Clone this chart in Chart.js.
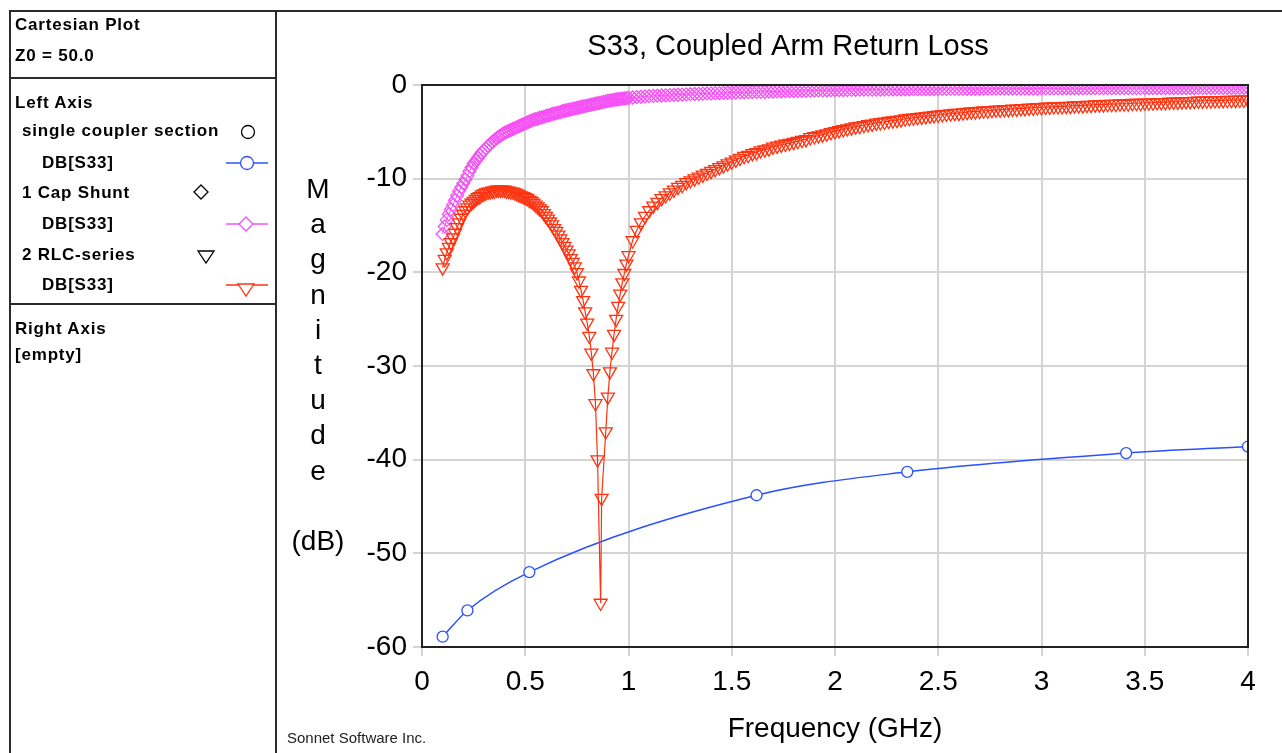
<!DOCTYPE html>
<html>
<head>
<meta charset="utf-8">
<script src="https://cdn.jsdelivr.net/npm/chart.js@4.4.1/dist/chart.umd.min.js"></script>
<style>
  body { margin: 0; background: #fff; }
  #page { position: relative; width: 1282px; height: 753px; overflow: hidden; font-family: "Liberation Sans", Arial, sans-serif; color: #000; }
  #myChart { position: absolute; left: 0; top: 0; }
  .rule { position: absolute; background: #2a2a2a; }
  .row { position: absolute; font-weight: bold; font-size: 17px; letter-spacing: 0.8px; line-height: 20px; height: 20px; white-space: nowrap; }
  #icons { position: absolute; left: 0; top: 0; }
  #yTitle { position: absolute; left: 288px; width: 60px; top: 171px; text-align: center; font-size: 28px; line-height: 35.2px; }
  #credit { position: absolute; left: 287px; top: 729px; font-size: 15px; line-height: 18px; color: #222; }
</style>
</head>
<body>
<div id="page">
  <canvas id="myChart" width="1282" height="753"></canvas>

  <div class="rule" style="left:9px;top:10px;width:1273px;height:2px"></div>
  <div class="rule" style="left:9px;top:10px;width:2px;height:743px"></div>
  <div class="rule" style="left:275px;top:10px;width:2px;height:743px"></div>
  <div class="rule" style="left:9px;top:77px;width:268px;height:2px"></div>
  <div class="rule" style="left:9px;top:303px;width:268px;height:2px"></div>

  <div class="row" style="left:15px;top:15px">Cartesian Plot</div>
  <div class="row" style="left:15px;top:46px">Z0 = 50.0</div>
  <div class="row" style="left:15px;top:93px">Left Axis</div>
  <div class="row" style="left:22px;top:121px">single coupler section</div>
  <div class="row" style="left:42px;top:153px">DB[S33]</div>
  <div class="row" style="left:22px;top:183px">1 Cap Shunt</div>
  <div class="row" style="left:42px;top:214px">DB[S33]</div>
  <div class="row" style="left:22px;top:245px">2 RLC-series</div>
  <div class="row" style="left:42px;top:275px">DB[S33]</div>
  <div class="row" style="left:15px;top:319px">Right Axis</div>
  <div class="row" style="left:15px;top:345px">[empty]</div>

  <svg id="icons" width="277" height="310">
    <circle cx="248" cy="132" r="6.5" fill="none" stroke="#000" stroke-width="1.3"/>
    <line x1="226" y1="163" x2="268" y2="163" stroke="#2a50ff" stroke-width="1.5"/>
    <circle cx="247" cy="163" r="6.5" fill="#fff" stroke="#2a50ff" stroke-width="1.3"/>
    <polygon points="201,185 208,192 201,199 194,192" fill="none" stroke="#000" stroke-width="1.3"/>
    <line x1="226" y1="224" x2="268" y2="224" stroke="#f550f5" stroke-width="1.5"/>
    <polygon points="246,217 253,224 246,231 239,224" fill="#fff" stroke="#f550f5" stroke-width="1.3"/>
    <polygon points="198,251 214,251 206,263" fill="none" stroke="#000" stroke-width="1.3"/>
    <line x1="226" y1="285" x2="268" y2="285" stroke="#ff3311" stroke-width="1.5"/>
    <polygon points="238,284 254,284 246,296" fill="#fff" stroke="#ff3311" stroke-width="1.3"/>
  </svg>

  <div id="yTitle">M<br>a<br>g<br>n<br>i<br>t<br>u<br>d<br>e<br><br>(dB)</div>
  <div id="credit">Sonnet Software Inc.</div>
</div>

<script>
// single coupler section, DB[S33]
const coupGHz = [0.10, 0.22, 0.52, 1.62, 2.35, 3.41, 4.00];
const coupDb = [-58.9, -56.1, -52.0, -43.8, -41.3, -39.3, -38.6];

// 1 Cap Shunt, DB[S33] - fine sweep below 1 GHz
const capFineGHz = [
  0.10, 0.11, 0.12, 0.13, 0.14, 0.15, 0.16, 0.17, 0.18, 0.19,
  0.20, 0.21, 0.22, 0.23, 0.24, 0.25, 0.26, 0.27, 0.28, 0.29,
  0.30, 0.31, 0.32, 0.33, 0.34, 0.35, 0.36, 0.37, 0.38, 0.39,
  0.40, 0.41, 0.42, 0.43, 0.44, 0.45, 0.46, 0.47, 0.48, 0.49,
  0.50, 0.51, 0.52, 0.53, 0.54, 0.55, 0.56, 0.57, 0.58, 0.59,
  0.60, 0.61, 0.62, 0.63, 0.64, 0.65, 0.66, 0.67, 0.68, 0.69,
  0.70, 0.71, 0.72, 0.73, 0.74, 0.75, 0.76, 0.77, 0.78, 0.79,
  0.80, 0.81, 0.82, 0.83, 0.84, 0.85, 0.86, 0.87, 0.88, 0.89,
  0.90, 0.91, 0.92, 0.93, 0.94, 0.95, 0.96, 0.97, 0.98, 0.99,
  1.00
];
const capFineDb = [
  -15.9, -15.1, -14.4, -13.8, -13.3, -12.8, -12.3, -11.8, -11.3, -10.9,
  -10.5, -10.1, -9.7, -9.2, -8.8, -8.4, -8.1, -7.8, -7.5, -7.2,
  -7.0, -6.75, -6.5, -6.3, -6.1, -5.9, -5.7, -5.55, -5.4, -5.25,
  -5.1, -5.0, -4.9, -4.8, -4.7, -4.6, -4.5, -4.4, -4.3, -4.2,
  -4.1, -4.0, -3.9, -3.8, -3.7, -3.65, -3.6, -3.5, -3.45, -3.4,
  -3.3, -3.25, -3.2, -3.1, -3.05, -3.0, -2.95, -2.9, -2.8, -2.75,
  -2.7, -2.65, -2.6, -2.55, -2.5, -2.45, -2.4, -2.35, -2.3, -2.25,
  -2.2, -2.15, -2.1, -2.05, -2.0, -1.95, -1.9, -1.85, -1.8, -1.75,
  -1.7, -1.66, -1.62, -1.58, -1.55, -1.52, -1.49, -1.46, -1.43, -1.4,
  -1.37
];

// 2 RLC-series, DB[S33] - fine sweep below 1 GHz, extra points round the notch
const rlcFineGHz = [
  0.10, 0.11, 0.12, 0.13, 0.14, 0.15, 0.16, 0.17, 0.18, 0.19,
  0.20, 0.21, 0.22, 0.23, 0.24, 0.25, 0.26, 0.27, 0.28, 0.29,
  0.30, 0.31, 0.32, 0.33, 0.34, 0.35, 0.36, 0.37, 0.38, 0.39,
  0.40, 0.41, 0.42, 0.43, 0.44, 0.45, 0.46, 0.47, 0.48, 0.49,
  0.50, 0.51, 0.52, 0.53, 0.54, 0.55, 0.56, 0.57, 0.58, 0.59,
  0.60, 0.61, 0.62, 0.63, 0.64, 0.65, 0.66, 0.67, 0.68, 0.69,
  0.70, 0.71, 0.72, 0.73, 0.74, 0.75, 0.76, 0.77, 0.78, 0.79,
  0.80, 0.81, 0.82, 0.83, 0.84, 0.85, 0.865, 0.87, 0.89, 0.90,
  0.91, 0.92, 0.93, 0.94, 0.95, 0.96, 0.97, 0.98, 0.99, 1.00
];
const rlcFineDb = [
  -19.5, -18.6, -17.9, -17.3, -16.8, -16.3, -15.8, -15.2, -14.7, -14.2,
  -13.8, -13.4, -13.1, -12.8, -12.6, -12.4, -12.2, -12.0, -11.9, -11.7,
  -11.6, -11.5, -11.4, -11.4, -11.3, -11.3, -11.2, -11.2, -11.2, -11.2,
  -11.2, -11.3, -11.3, -11.4, -11.4, -11.5, -11.6, -11.7, -11.8, -11.9,
  -12.0, -12.1, -12.3, -12.4, -12.6, -12.8, -13.0, -13.2, -13.4, -13.7,
  -14.0, -14.3, -14.6, -14.9, -15.3, -15.6, -16.0, -16.4, -16.8, -17.2,
  -17.6, -18.0, -18.5, -18.9, -19.4, -20.0, -20.9, -21.9, -23.0, -24.2,
  -25.4, -26.8, -28.6, -30.8, -34.0, -40.0, -55.3, -44.1, -37.0, -33.3,
  -30.6, -28.5, -26.6, -25.0, -23.6, -22.3, -21.1, -20.1, -19.1, -18.2
];

// coarse sweep above 1 GHz, shared by both dense traces
const coarseGHz = [
  1.02, 1.04, 1.06, 1.08, 1.10, 1.12, 1.14, 1.16, 1.18, 1.20,
  1.22, 1.24, 1.26, 1.28, 1.30, 1.32, 1.34, 1.36, 1.38, 1.40,
  1.42, 1.44, 1.46, 1.48, 1.50, 1.52, 1.54, 1.56, 1.58, 1.60,
  1.62, 1.64, 1.66, 1.68, 1.70, 1.72, 1.74, 1.76, 1.78, 1.80,
  1.82, 1.84, 1.86, 1.88, 1.90, 1.92, 1.94, 1.96, 1.98, 2.00,
  2.02, 2.04, 2.06, 2.08, 2.10, 2.12, 2.14, 2.16, 2.18, 2.20,
  2.22, 2.24, 2.26, 2.28, 2.30, 2.32, 2.34, 2.36, 2.38, 2.40,
  2.42, 2.44, 2.46, 2.48, 2.50, 2.52, 2.54, 2.56, 2.58, 2.60,
  2.62, 2.64, 2.66, 2.68, 2.70, 2.72, 2.74, 2.76, 2.78, 2.80,
  2.82, 2.84, 2.86, 2.88, 2.90, 2.92, 2.94, 2.96, 2.98, 3.00,
  3.02, 3.04, 3.06, 3.08, 3.10, 3.12, 3.14, 3.16, 3.18, 3.20,
  3.22, 3.24, 3.26, 3.28, 3.30, 3.32, 3.34, 3.36, 3.38, 3.40,
  3.42, 3.44, 3.46, 3.48, 3.50, 3.52, 3.54, 3.56, 3.58, 3.60,
  3.62, 3.64, 3.66, 3.68, 3.70, 3.72, 3.74, 3.76, 3.78, 3.80,
  3.82, 3.84, 3.86, 3.88, 3.90, 3.92, 3.94, 3.96, 3.98, 4.00
];
const capCoarseDb = [
  -1.33, -1.29, -1.25, -1.22, -1.19, -1.16, -1.14, -1.12, -1.10, -1.08,
  -1.06, -1.04, -1.02, -1.00, -0.98, -0.96, -0.94, -0.92, -0.90, -0.89,
  -0.87, -0.86, -0.84, -0.83, -0.81, -0.80, -0.79, -0.77, -0.76, -0.75,
  -0.74, -0.73, -0.72, -0.70, -0.69, -0.68, -0.67, -0.66, -0.65, -0.64,
  -0.63, -0.62, -0.61, -0.60, -0.59, -0.58, -0.57, -0.56, -0.55, -0.54,
  -0.54, -0.53, -0.52, -0.52, -0.51, -0.50, -0.50, -0.49, -0.49, -0.48,
  -0.48, -0.47, -0.47, -0.46, -0.46, -0.45, -0.45, -0.45, -0.44, -0.44,
  -0.44, -0.43, -0.43, -0.43, -0.42, -0.42, -0.42, -0.41, -0.41, -0.41,
  -0.41, -0.40, -0.40, -0.40, -0.40, -0.39, -0.39, -0.39, -0.39, -0.38,
  -0.38, -0.38, -0.38, -0.38, -0.37, -0.37, -0.37, -0.37, -0.37, -0.36,
  -0.36, -0.36, -0.36, -0.36, -0.35, -0.35, -0.35, -0.35, -0.35, -0.35,
  -0.34, -0.34, -0.34, -0.34, -0.34, -0.34, -0.34, -0.33, -0.33, -0.33,
  -0.33, -0.33, -0.33, -0.33, -0.33, -0.32, -0.32, -0.32, -0.32, -0.32,
  -0.32, -0.32, -0.32, -0.32, -0.32, -0.32, -0.32, -0.31, -0.31, -0.31,
  -0.31, -0.31, -0.31, -0.31, -0.31, -0.31, -0.31, -0.31, -0.31, -0.31
];
const rlcCoarseDb = [
  -16.6, -15.5, -14.7, -14.0, -13.4, -12.9, -12.5, -12.1, -11.8, -11.5,
  -11.2, -10.9, -10.7, -10.4, -10.2, -10.0, -9.8, -9.6, -9.4, -9.2,
  -9.0, -8.8, -8.6, -8.4, -8.2, -8.0, -7.8, -7.6, -7.5, -7.3,
  -7.2, -7.0, -6.9, -6.8, -6.6, -6.5, -6.4, -6.3, -6.2, -6.1,
  -6.0, -5.9, -5.8, -5.6, -5.5, -5.4, -5.3, -5.2, -5.05, -4.95,
  -4.85, -4.75, -4.65, -4.55, -4.45, -4.4, -4.3, -4.2, -4.15, -4.05,
  -4.0, -3.95, -3.85, -3.8, -3.75, -3.7, -3.6, -3.55, -3.5, -3.45,
  -3.4, -3.35, -3.3, -3.25, -3.2, -3.15, -3.1, -3.05, -3.0, -3.0,
  -2.95, -2.9, -2.85, -2.85, -2.8, -2.75, -2.75, -2.7, -2.65, -2.65,
  -2.6, -2.6, -2.55, -2.55, -2.5, -2.5, -2.45, -2.45, -2.4, -2.4,
  -2.35, -2.35, -2.3, -2.3, -2.3, -2.25, -2.25, -2.2, -2.2, -2.2,
  -2.15, -2.15, -2.1, -2.1, -2.1, -2.05, -2.05, -2.05, -2.0, -2.0,
  -2.0, -1.95, -1.95, -1.95, -1.9, -1.9, -1.9, -1.85, -1.85, -1.85,
  -1.8, -1.8, -1.8, -1.78, -1.75, -1.75, -1.72, -1.7, -1.7, -1.68,
  -1.67, -1.66, -1.65, -1.64, -1.63, -1.62, -1.61, -1.6, -1.6, -1.6
];

const xTicks = { min: 0, max: 4, step: 0.5 };
const yTicks = { min: -60, max: 0, step: 10 };

const BLUE = "#2a50ff";
const PINK = "#f550f5";
const RED = "#ff3311";
const GRID = "#d4d4d4";

Chart.defaults.font.family = '"Liberation Sans", Arial, sans-serif';
Chart.defaults.color = "#000";

const toPoints = (xs, ys) => xs.map((x, i) => ({ x: x, y: ys[i] }));

// dark box round the plot area
const frame = {
  id: "frame",
  afterDraw(chart) {
    const { ctx, chartArea: a } = chart;
    ctx.save();
    ctx.strokeStyle = "#222";
    ctx.lineWidth = 2;
    ctx.strokeRect(a.left, a.top, a.right - a.left, a.bottom - a.top);
    ctx.restore();
  }
};

const ctx = document.getElementById("myChart");
const myChart = new Chart(ctx, {
  type: "line",
  data: {
    datasets: [
      {
        label: "single coupler section DB[S33]",
        data: toPoints(coupGHz, coupDb),
        borderColor: BLUE,
        borderWidth: 1.5,
        cubicInterpolationMode: "monotone",
        pointStyle: "circle",
        pointRadius: 5.5,
        pointBorderWidth: 1.3,
        pointBorderColor: BLUE,
        pointBackgroundColor: "#fff",
        order: 3
      },
      {
        label: "1 Cap Shunt DB[S33]",
        data: toPoints(capFineGHz.concat(coarseGHz), capFineDb.concat(capCoarseDb)),
        borderColor: PINK,
        borderWidth: 1,
        pointStyle: "rectRot",
        pointRadius: 6.5,
        pointBorderWidth: 1.3,
        pointBorderColor: PINK,
        pointBackgroundColor: "rgba(255,255,255,0)",
        order: 2
      },
      {
        label: "2 RLC-series DB[S33]",
        data: toPoints(rlcFineGHz.concat(coarseGHz), rlcFineDb.concat(rlcCoarseDb)),
        borderColor: RED,
        borderWidth: 1.2,
        pointStyle: "triangle",
        pointRotation: 180,
        pointRadius: 7.5,
        pointBorderWidth: 1.3,
        pointBorderColor: RED,
        pointBackgroundColor: "rgba(255,255,255,0)",
        order: 1
      }
    ]
  },
  options: {
    responsive: false,
    animation: false,
    events: [],
    layout: { padding: { left: 328, right: 34, top: 0, bottom: 0 } },
    plugins: {
      legend: { display: false },
      tooltip: { enabled: false },
      title: {
        display: true,
        text: "S33, Coupled Arm Return Loss",
        color: "#000",
        font: { size: 29, weight: "normal" },
        padding: { top: 29.6, bottom: 20.6 }
      }
    },
    scales: {
      x: {
        type: "linear",
        min: xTicks.min,
        max: xTicks.max,
        ticks: {
          stepSize: xTicks.step,
          color: "#000",
          font: { size: 28 },
          padding: 9,
          maxRotation: 0,
          callback: (v) => String(Math.round(v * 10) / 10)
        },
        grid: { color: GRID, lineWidth: 2, tickLength: 9 },
        border: { display: false },
        title: {
          display: true,
          text: "Frequency (GHz)",
          color: "#000",
          font: { size: 28 },
          padding: { top: 0, bottom: 7 }
        },
        afterFit: (s) => { s.height = 106; }
      },
      y: {
        min: yTicks.min,
        max: yTicks.max,
        ticks: { stepSize: yTicks.step, color: "#000", font: { size: 28 }, padding: 6 },
        grid: { color: GRID, lineWidth: 2, tickLength: 9 },
        border: { display: false },
        afterFit: (s) => { s.width = 94; }
      }
    }
  },
  plugins: [frame]
});
</script>
</body>
</html>
